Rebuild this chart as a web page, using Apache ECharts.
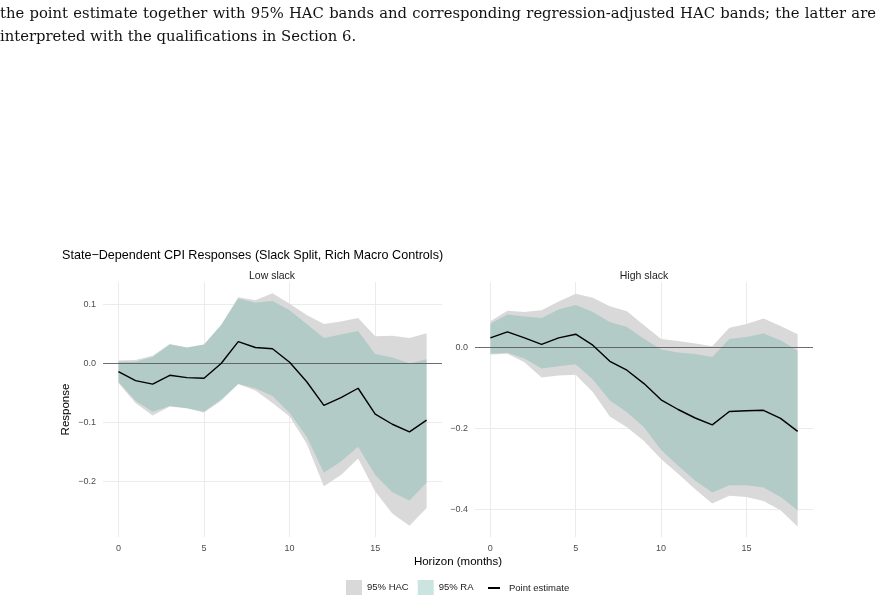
<!DOCTYPE html>
<html>
<head>
<meta charset="utf-8">
<script src="https://cdn.jsdelivr.net/npm/echarts@6/dist/echarts.min.js"></script>
<style>
  html, body { margin: 0; padding: 0; background: #fff; }
  #wrap { position: relative; width: 876px; height: 602px; overflow: hidden; }
  #chart { position: absolute; left: 0; top: 0; width: 876px; height: 602px; }
  .cap { position: absolute; left: 0; font-family: "DejaVu Serif", serif; font-size: 15px; line-height: 22px; color: #111; z-index: 2; white-space: nowrap; }
</style>
</head>
<body>
<div id="wrap">
  <div id="cap2" class="cap" style="top:2px">the point estimate together with 95% HAC bands and corresponding regression-adjusted HAC bands; the latter are</div>
  <div id="cap3" class="cap" style="top:25px">interpreted with the qualifications in Section 6.</div>
  <div id="chart"></div>
</div>
<script>
(function () {
    // horizons in months
    let horizons = [0, 1, 2, 3, 4, 5, 6, 7, 8, 9, 10, 11, 12, 13, 14, 15, 16, 17, 18]

    // Low slack
    let lowPoint = [-0.014, -0.029, -0.035, -0.020, -0.024, -0.025, 0.000, 0.037, 0.027, 0.025, 0.002, -0.031, -0.071, -0.058, -0.042, -0.086, -0.103, -0.116, -0.096]
    let lowHacUp = [0.005, 0.006, 0.013, 0.033, 0.027, 0.032, 0.065, 0.112, 0.107, 0.119, 0.101, 0.082, 0.067, 0.071, 0.077, 0.046, 0.047, 0.043, 0.051]
    let lowHacLo = [-0.033, -0.067, -0.088, -0.073, -0.076, -0.083, -0.063, -0.035, -0.046, -0.067, -0.090, -0.136, -0.208, -0.189, -0.161, -0.217, -0.254, -0.275, -0.245]
    let lowRaUp = [0.003, 0.003, 0.011, 0.032, 0.027, 0.032, 0.065, 0.110, 0.103, 0.106, 0.090, 0.067, 0.043, 0.049, 0.055, 0.016, 0.010, 0.000, 0.007]
    let lowRaLo = [-0.031, -0.063, -0.082, -0.072, -0.076, -0.082, -0.061, -0.035, -0.042, -0.055, -0.084, -0.124, -0.185, -0.166, -0.141, -0.189, -0.218, -0.232, -0.202]

    // High slack
    let highPoint = [0.024, 0.039, 0.024, 0.008, 0.024, 0.033, 0.006, -0.034, -0.056, -0.089, -0.129, -0.153, -0.174, -0.191, -0.158, -0.156, -0.155, -0.175, -0.207]
    let highHacUp = [0.065, 0.091, 0.088, 0.092, 0.114, 0.133, 0.123, 0.102, 0.090, 0.055, 0.021, 0.016, 0.010, 0.003, 0.049, 0.058, 0.072, 0.053, 0.033]
    let highHacLo = [-0.017, -0.015, -0.036, -0.074, -0.069, -0.067, -0.110, -0.170, -0.197, -0.231, -0.275, -0.312, -0.350, -0.385, -0.366, -0.369, -0.379, -0.402, -0.442]
    let highRaUp = [0.059, 0.082, 0.077, 0.073, 0.094, 0.105, 0.088, 0.063, 0.051, 0.022, -0.005, -0.012, -0.016, -0.023, 0.021, 0.026, 0.035, 0.018, -0.008]
    let highRaLo = [-0.015, -0.013, -0.027, -0.052, -0.046, -0.041, -0.079, -0.131, -0.160, -0.197, -0.253, -0.292, -0.329, -0.358, -0.340, -0.340, -0.346, -0.369, -0.402]

    // tick labels
    let xTicks = [0, 5, 10, 15]
    let lowYTicks = [-0.2, -0.1, 0.0, 0.1]
    let highYTicks = [-0.4, -0.2, 0.0]

    let hacColor = '#d9d9d9'
    let raColor = 'rgba(105,179,162,0.35)'
    let font = '"Liberation Sans", Arial, sans-serif'

    // caption: shrink line 2 to fit the text width if needed, then justify it
    let cap2 = document.getElementById('cap2')
    let cap3 = document.getElementById('cap3')
    let w2 = cap2.getBoundingClientRect().width
    if (w2 > 868) {
        let fs = 15 * 868 / w2
        cap2.style.fontSize = fs + 'px'
        cap3.style.fontSize = fs + 'px'
        w2 = cap2.getBoundingClientRect().width
    }
    let gaps = cap2.textContent.split(' ').length - 1
    cap2.style.wordSpacing = ((876 - w2) / gaps) + 'px'

    let chart = echarts.init(document.getElementById('chart'))

    let minus = (v) => v.toFixed(1).replace('-', '\u2212')

    // ribbon between lower and upper band, drawn as one polygon on the axes
    function ribbon(name, lo, hi, color, gi) {
        return {
            type: 'custom', name: name, xAxisIndex: gi, yAxisIndex: gi, silent: true, z: 2,
            itemStyle: { color: color },
            data: horizons.map((h, i) => [h, lo[i], hi[i]]),
            encode: { x: 0, y: [1, 2] },
            renderItem: function (params, api) {
                if (params.dataIndex !== 0) return
                let top = horizons.map((h, i) => api.coord([h, hi[i]]))
                let bottom = horizons.map((h, i) => api.coord([h, lo[i]])).reverse()
                return {
                    type: 'polygon',
                    shape: { points: top.concat(bottom) },
                    style: { fill: color }
                }
            }
        }
    }

    function xAxis(gi) {
        return {
            type: 'value', gridIndex: gi, min: -0.9, max: 18.9,
            axisLine: { show: false },
            axisTick: { show: false, customValues: xTicks },
            axisLabel: { customValues: xTicks, color: '#4d4d4d', fontSize: 9, margin: 7, fontFamily: font },
            splitLine: { show: true, lineStyle: { color: '#ebebeb', width: 1 } }
        }
    }

    function yAxis(gi, min, max, ticks, extra) {
        return Object.assign({
            type: 'value', gridIndex: gi, min: min, max: max,
            axisLine: { show: false },
            axisTick: { show: false, customValues: ticks },
            axisLabel: { customValues: ticks, color: '#4d4d4d', fontSize: 9, margin: 7, fontFamily: font, formatter: minus },
            splitLine: { show: true, lineStyle: { color: '#ebebeb', width: 1 } }
        }, extra || {})
    }

    function pointLine(data, gi) {
        return {
            type: 'line', name: 'Point estimate', xAxisIndex: gi, yAxisIndex: gi,
            symbol: 'none', data: horizons.map((h, i) => [h, data[i]]), z: 5,
            itemStyle: { color: '#000' },
            lineStyle: { color: '#000', width: 1.4 },
            markLine: {
                silent: true, symbol: 'none', label: { show: false },
                lineStyle: { color: '#4d4d4d', width: 0.8, type: 'solid' },
                data: [{ yAxis: 0 }], z: 4
            }
        }
    }

    let option = {
        backgroundColor: '#fff',
        animation: false,
        textStyle: { fontFamily: font },
        grid: [
            { left: 103, top: 282, width: 339, height: 255 },
            { left: 475, top: 282, width: 338, height: 255 }
        ],
        xAxis: [xAxis(0), xAxis(1)],
        yAxis: [
            yAxis(0, -0.294, 0.138, lowYTicks, {
                name: 'Response', nameLocation: 'middle', nameGap: 31, nameRotate: 90,
                nameTextStyle: { fontSize: 11.5, color: '#000', fontFamily: font }
            }),
            yAxis(1, -0.468, 0.162, highYTicks)
        ],
        legend: [{
            left: 341, top: 575, itemWidth: 16, itemHeight: 15, itemGap: 9, selectedMode: false,
            textStyle: { fontSize: 9.5, color: '#1a1a1a', fontFamily: font },
            data: [
                { name: '95% HAC', icon: 'rect', itemStyle: { color: hacColor } },
                { name: '95% RA', icon: 'rect', itemStyle: { color: raColor } }
            ]
        }, {
            left: 483, top: 578, itemWidth: 12, itemHeight: 2, selectedMode: false,
            textStyle: { fontSize: 9.5, color: '#1a1a1a', fontFamily: font, padding: [0, 0, 0, 4] },
            data: [{ name: 'Point estimate', icon: 'rect', itemStyle: { color: '#000' } }]
        }],
        graphic: [
            { type: 'text', left: 62, top: 249, style: { text: 'State\u2212Dependent CPI Responses (Slack Split, Rich Macro Controls)', fontSize: 12.6, fill: '#000', fontFamily: font } },
            { type: 'text', x: 272, y: 276, style: { text: 'Low slack', fontSize: 10.5, fill: '#1a1a1a', fontFamily: font, align: 'center', verticalAlign: 'middle' } },
            { type: 'text', x: 644, y: 276, style: { text: 'High slack', fontSize: 10.5, fill: '#1a1a1a', fontFamily: font, align: 'center', verticalAlign: 'middle' } },
            { type: 'text', x: 458, y: 562, style: { text: 'Horizon (months)', fontSize: 11.5, fill: '#000', fontFamily: font, align: 'center', verticalAlign: 'middle' } }
        ],
        series: [
            ribbon('95% HAC', lowHacLo, lowHacUp, hacColor, 0),
            ribbon('95% RA', lowRaLo, lowRaUp, raColor, 0),
            pointLine(lowPoint, 0),
            ribbon('95% HAC', highHacLo, highHacUp, hacColor, 1),
            ribbon('95% RA', highRaLo, highRaUp, raColor, 1),
            pointLine(highPoint, 1)
        ]
    }

    chart.setOption(option)
    window.addEventListener('resize', function () {
        chart.resize()
    })
})();
</script>
</body>
</html>
